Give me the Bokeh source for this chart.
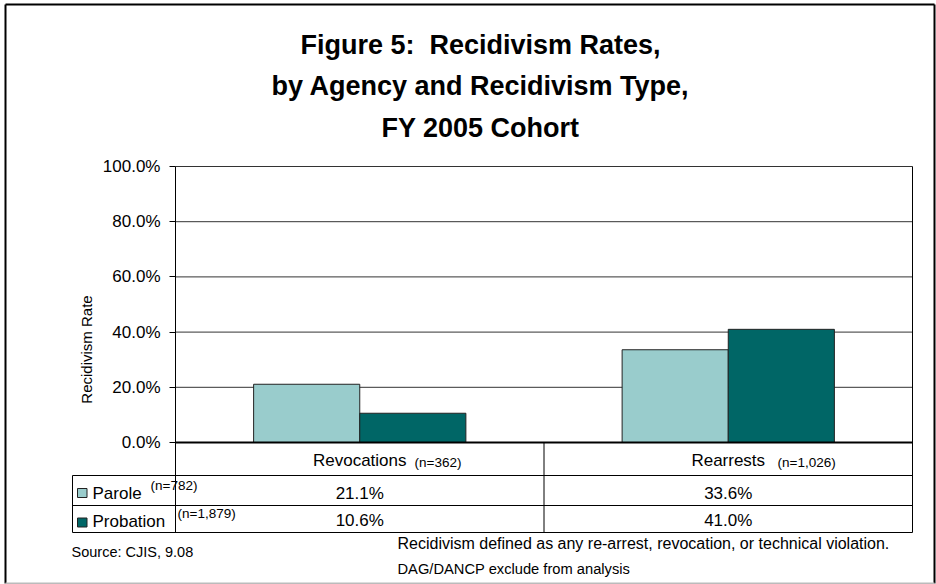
from bokeh.plotting import figure
from bokeh.models import (Range1d, FixedTicker, NumeralTickFormatter, Label, LabelSet,
                          ColumnDataSource)
from bokeh.core.properties import value
from bokeh.embed import file_html
from bokeh.resources import INLINE

# ---------------- data ----------------
categories = ["Revocations", "Rearrests"]
category_n = ["(n=362)", "(n=1,026)"]
agencies = ["Parole", "Probation"]
agency_n = ["(n=782)", "(n=1,879)"]
parole = [21.1, 33.6]        # percent
probation = [10.6, 41.0]     # percent
y_ticks = [0, 20, 40, 60, 80, 100]
title_lines = ["Figure 5:\u00a0 Recidivism Rates,",
               "by Agency and Recidivism Type,",
               "FY 2005 Cohort"]
source_note = "Source: CJIS, 9.08"
notes = ["Recidivism defined as any re-arrest, revocation, or technical violation.",
         "DAG/DANCP exclude from analysis"]

# ---------------- layout ----------------
FONT = "Liberation Sans"
W, H = 936, 584
L, R, T, B = 175, 912, 166, 442      # plot area in screen px
LIGHT = "#99CCCC"
DARK = "#006666"
ncat = len(categories)
CW = (R - L) / ncat                  # px per category


def X(px):  # screen px -> category coordinate
    return (px - L) / CW


def Y(py):  # screen px -> rate (fraction)
    return (B - py) / (B - T)


def txt(x, y, text, size, align="left", baseline="middle", style="normal"):
    p.add_layout(Label(x=x, y=y, text=text, text_align=align, text_baseline=baseline,
                       text_font=FONT, text_font_size=size, text_font_style=style,
                       text_color="black"))


p = figure(width=W, height=H,
           x_range=Range1d(X(0), X(W)), y_range=Range1d(Y(H), Y(0)),
           output_backend="svg", toolbar_location=None,
           min_border_left=0, min_border_right=0, min_border_top=0, min_border_bottom=0)
p.background_fill_color = "white"
p.border_fill_color = "white"
p.outline_line_color = None
p.xaxis.visible = False
p.xgrid.visible = False
p.ygrid.visible = False

cat_x = [i + 0.5 for i in range(ncat)]
bw = 0.288
src = ColumnDataSource(dict(
    cat=categories,
    x_par=[c - bw / 2 for c in cat_x],
    x_pro=[c + bw / 2 for c in cat_x],
    parole=[v / 100 for v in parole],
    probation=[v / 100 for v in probation],
    parole_txt=[f"{v:.1f}%" for v in parole],
    probation_txt=[f"{v:.1f}%" for v in probation],
    cx=cat_x,
    yh=[Y(460)] * ncat,
    y1=[Y(492.5)] * ncat,
    y2=[Y(520)] * ncat,
))

# gridlines (incl. top of plot area)
gy = [t / 100 for t in y_ticks[1:]]
p.segment(x0=[0] * len(gy), x1=[ncat] * len(gy), y0=gy, y1=gy,
          line_color="#333333", line_width=1)

p.vbar(x="x_par", top="parole", width=bw, source=src,
       fill_color=LIGHT, line_color="#222222", line_width=1)
p.vbar(x="x_pro", top="probation", width=bw, source=src,
       fill_color=DARK, line_color="#222222", line_width=1)

# y axis at the left edge of the plot area
ax = p.yaxis[0]
ax.fixed_location = 0
ax.bounds = (Y(532), 1)
tick = FixedTicker(ticks=[t / 100 for t in y_ticks])
ax.ticker = tick
ax.formatter = NumeralTickFormatter(format="0.0%")
ax.major_label_text_font = FONT
ax.major_label_text_font_size = "17px"
ax.major_label_text_color = "black"
ax.major_tick_out = 6
ax.major_tick_in = 0
ax.minor_tick_out = 0
ax.minor_tick_in = 0
ax.major_tick_line_color = "black"
ax.axis_line_color = "black"
ax.major_label_standoff = 9
ax.axis_label = "Recidivism Rate"
ax.axis_label_text_font = FONT
ax.axis_label_text_font_size = "15px"
ax.axis_label_text_font_style = "normal"
ax.axis_label_text_color = "black"
ax.axis_label_standoff = 5

# plot-area right edge and baseline
p.segment(x0=[ncat], x1=[ncat], y0=[Y(532)], y1=[1], line_color="black", line_width=1)
p.segment(x0=[0], x1=[ncat], y0=[0], y1=[0], line_color="black", line_width=2)

# table lines
hy = [Y(yy) for yy in (475, 505, 532)]
p.segment(x0=[X(72)] * 3, x1=[ncat] * 3, y0=hy, y1=hy, line_color="black", line_width=1)
vx = [X(72)] + [float(i) for i in range(1, ncat)]
vy0 = [Y(475)] + [0.0] * (ncat - 1)
p.segment(x0=vx, x1=vx, y0=vy0, y1=[Y(532)] * len(vx), line_color="black", line_width=1)

# outer border
p.segment(x0=[X(5), X(5), X(934)], x1=[X(934), X(5), X(934)],
          y0=[Y(4), Y(4), Y(4)], y1=[Y(4), Y(583), Y(583)],
          line_color="black", line_width=2)
p.segment(x0=[X(5)], x1=[X(934)], y0=[Y(583)], y1=[Y(583)],
          line_color="#bbbbbb", line_width=2)

# title
for i, t in enumerate(title_lines):
    txt(X(480), Y(44 + 41.5 * i), t, "27px", align="center", style="bold")

# table header (categories)
lab_kw = dict(source=src, text_align="center", text_baseline="middle",
              text_font=value(FONT), text_font_size=value("17px"), text_color="black")
p.add_layout(LabelSet(x="cx", y="yh", text="cat", **lab_kw))
for n_txt, px in zip(category_n, (414, 777)):
    txt(X(px), Y(462), n_txt, "13.5px")

# table values
p.add_layout(LabelSet(x="cx", y="y1", text="parole_txt", **lab_kw))
p.add_layout(LabelSet(x="cx", y="y2", text="probation_txt", **lab_kw))

# legend column of table
row_mid = (492.5, 521)
key_mid = (492.5, 522)
for name, n_txt, col, mid, kmid, nx, nmid in zip(agencies, agency_n, (LIGHT, DARK), row_mid,
                                                 key_mid, (150, 177), (484.5, 513)):
    p.quad(left=[X(77)], right=[X(86.5)], bottom=[Y(kmid + 4.5)], top=[Y(kmid - 4.5)],
           fill_color=col, line_color="#222222", line_width=1)
    txt(X(92), Y(mid), name, "17px")
    txt(X(nx), Y(nmid), n_txt, "13.5px")

# notes
txt(X(71), Y(551), source_note, "14.5px")
txt(X(397), Y(543), notes[0], "16px")
txt(X(397), Y(568), notes[1], "14.7px")

open("out.html", "w").write(file_html(p, INLINE))
